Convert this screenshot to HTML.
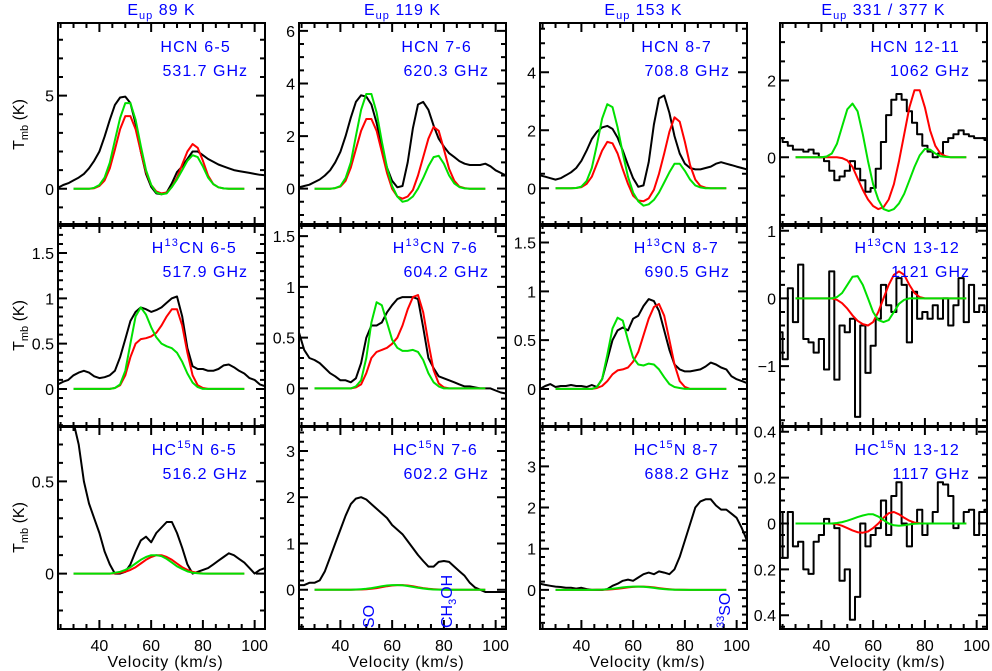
<!DOCTYPE html>
<html><head><meta charset="utf-8">
<style>
html,body{margin:0;padding:0;background:#fff;}
svg{display:block;font-family:"Liberation Sans",sans-serif;}
</style></head>
<body>
<svg id="chart" width="992" height="671" viewBox="0 0 992 671" xmlns="http://www.w3.org/2000/svg"></svg>
<script>
// ---------- data ----------
const VEL_OBS = [24,26,28,30,32,34,36,38,40,42,44,46,48,50,52,54,56,58,60,62,64,66,68,70,72,74,76,78,80,82,84,86,88,90,92,94,96,98,100,102,104];
const VEL_FIT = [30,32,34,36,38,40,42,44,46,48,50,52,54,56,58,60,62,64,66,68,70,72,74,76,78,80,82,84,86,88,90,92,94,96];

// HCN 6-5
const obs_hcn65 = [0.05,0.2,0.3,0.45,0.6,0.8,1.1,1.5,2.0,2.8,3.7,4.5,4.9,4.95,4.6,3.5,2.0,0.8,0.1,-0.25,-0.3,-0.2,0.3,0.9,1.2,1.6,2.0,2.0,1.8,1.6,1.45,1.3,1.2,1.1,1.0,0.95,0.9,0.85,0.8,0.75,0.72];
const green_hcn65 = [0,0,0,0,0.05,0.2,0.6,1.4,2.6,3.8,4.6,4.6,3.7,2.3,1.0,0.2,-0.2,-0.3,-0.25,0.1,0.5,1.0,1.5,1.8,1.7,1.2,0.6,0.25,0.08,0.02,0,0,0,0];
const red_hcn65 = [0,0,0,0,0.03,0.15,0.45,1.1,2.1,3.2,3.9,3.9,3.2,2.0,0.9,0.2,-0.15,-0.25,-0.2,0.1,0.6,1.3,2.0,2.4,2.2,1.5,0.7,0.25,0.08,0.02,0,0,0,0];
// HCN 7-6
const obs_hcn76 = [0.05,0.1,0.15,0.25,0.35,0.5,0.7,1.0,1.4,2.0,2.7,3.3,3.55,3.5,3.2,2.5,1.6,0.8,0.3,0.05,0.1,1.0,2.3,3.2,3.3,3.0,2.4,1.9,1.6,1.35,1.2,1.05,0.95,0.9,0.9,0.9,0.95,0.85,0.7,0.6,0.5];
const green_hcn76 = [0,0,0,0,0.02,0.1,0.4,1.0,2.0,3.0,3.6,3.6,2.9,1.8,0.8,0.1,-0.3,-0.5,-0.45,-0.3,0.0,0.4,0.85,1.2,1.25,0.95,0.5,0.2,0.06,0.01,0,0,0,0];
const red_hcn76 = [0,0,0,0,0.02,0.08,0.3,0.8,1.5,2.2,2.65,2.65,2.2,1.4,0.6,0.0,-0.3,-0.38,-0.3,-0.05,0.5,1.2,1.9,2.35,2.2,1.5,0.75,0.3,0.08,0.02,0,0,0,0];
// HCN 8-7
const obs_hcn87 = [0.45,0.4,0.35,0.3,0.35,0.45,0.55,0.7,0.95,1.3,1.7,1.95,2.1,2.15,2.05,1.75,1.3,0.8,0.35,0.05,0.1,0.9,2.2,3.1,3.2,2.6,1.8,1.2,0.85,0.7,0.65,0.65,0.7,0.75,0.85,0.9,0.85,0.8,0.75,0.7,0.65];
const green_hcn87 = [0,0,0,0,0.01,0.06,0.25,0.7,1.5,2.4,2.9,2.8,2.1,1.2,0.4,-0.15,-0.45,-0.6,-0.55,-0.4,-0.15,0.2,0.55,0.85,0.85,0.6,0.3,0.1,0.03,0,0,0,0,0];
const red_hcn87 = [0,0,0,0,0.01,0.04,0.15,0.4,0.85,1.3,1.6,1.55,1.2,0.65,0.15,-0.25,-0.42,-0.45,-0.35,-0.05,0.5,1.2,1.95,2.45,2.3,1.6,0.8,0.3,0.08,0.02,0,0,0,0];
// HCN 12-11
const obs_hcn1211 = [0.5,0.4,0.3,0.2,0.2,0.15,0.2,0.1,0.0,-0.1,-0.35,-0.6,-0.5,-0.35,-0.1,-0.3,-0.6,-0.9,-0.8,-0.3,0.4,1.1,1.5,1.65,1.5,1.2,0.9,0.6,0.3,0.15,0.0,0.1,0.4,0.5,0.6,0.7,0.6,0.55,0.5,0.5,0.45];
const green_hcn1211 = [0,0,0,0,0,0,0.02,0.1,0.35,0.8,1.25,1.4,1.2,0.6,-0.1,-0.7,-1.1,-1.35,-1.4,-1.35,-1.2,-0.95,-0.6,-0.25,0.05,0.22,0.2,0.1,0.03,0.01,0,0,0,0];
const red_hcn1211 = [0,0,0,0,0,0,0,0,0,-0.02,-0.08,-0.25,-0.55,-0.85,-1.1,-1.27,-1.35,-1.3,-1.1,-0.7,-0.1,0.6,1.3,1.75,1.75,1.3,0.7,0.3,0.1,0.03,0,0,0,0];
// H13CN 6-5
const obs_h13cn65 = [0.05,0.08,0.1,0.15,0.18,0.2,0.18,0.14,0.12,0.13,0.15,0.2,0.35,0.55,0.75,0.85,0.9,0.88,0.85,0.87,0.9,0.95,1.0,1.02,0.8,0.45,0.25,0.22,0.22,0.2,0.2,0.22,0.26,0.27,0.24,0.2,0.17,0.12,0.1,0.05,0.03];
const green_h13cn65 = [0,0,0,0,0,0,0,0,0.01,0.05,0.2,0.5,0.8,0.9,0.82,0.68,0.57,0.5,0.47,0.45,0.4,0.3,0.17,0.07,0.02,0,0,0,0,0,0,0,0,0];
const red_h13cn65 = [0,0,0,0,0,0,0,0,0.01,0.04,0.15,0.35,0.5,0.55,0.56,0.58,0.62,0.7,0.8,0.88,0.88,0.7,0.4,0.15,0.04,0.01,0,0,0,0,0,0,0,0];
// H13CN 7-6
const obs_h13cn76 = [0.55,0.38,0.3,0.28,0.25,0.2,0.15,0.12,0.08,0.08,0.06,0.1,0.25,0.5,0.62,0.62,0.65,0.75,0.82,0.88,0.9,0.9,0.9,0.88,0.6,0.3,0.2,0.12,0.1,0.08,0.06,0.04,0.02,0.02,0.01,0.0,0.0,0.0,-0.02,-0.04,-0.05];
const green_h13cn76 = [0,0,0,0,0,0,0,0,0.02,0.08,0.3,0.65,0.85,0.82,0.65,0.48,0.4,0.37,0.37,0.38,0.36,0.28,0.15,0.06,0.02,0,0,0,0,0,0,0,0,0];
const red_h13cn76 = [0,0,0,0,0,0,0,0,0.01,0.04,0.15,0.3,0.36,0.38,0.4,0.44,0.5,0.62,0.78,0.9,0.92,0.75,0.45,0.18,0.05,0.01,0,0,0,0,0,0,0,0];
// H13CN 8-7
const obs_h13cn87 = [0.0,0.03,0.05,0.02,0.03,0.03,0.04,0.03,0.03,0.02,0.04,0.02,0.1,0.3,0.5,0.6,0.63,0.6,0.72,0.75,0.85,0.92,0.9,0.8,0.6,0.4,0.25,0.2,0.18,0.18,0.19,0.2,0.23,0.27,0.25,0.22,0.2,0.13,0.1,0.08,0.06];
const green_h13cn87 = [0,0,0,0,0,0,0,0,0.02,0.1,0.35,0.62,0.73,0.7,0.5,0.32,0.25,0.24,0.26,0.25,0.2,0.12,0.05,0.02,0.01,0,0,0,0,0,0,0,0,0];
const red_h13cn87 = [0,0,0,0,0,0,0,0,0.01,0.03,0.08,0.15,0.19,0.2,0.22,0.28,0.38,0.55,0.72,0.84,0.87,0.75,0.5,0.25,0.08,0.02,0,0,0,0,0,0,0,0];
// H13CN 13-12
const obs_h13cn1312 = [-0.5,-0.9,0.15,-0.35,0.5,-0.6,-0.65,-0.8,-0.6,-1.05,0.4,-1.2,-0.4,-0.5,-0.3,-1.75,-0.4,-1.1,-0.7,-0.3,0.2,-0.1,-0.2,0.3,0.2,-0.65,0.1,-0.3,-0.2,-0.3,-0.1,-0.3,0.0,-0.4,-0.1,0.3,-0.35,0.2,-0.2,-0.1,-0.2];
const green_h13cn1312 = [0,0,0,0,0,0,0,0,0.02,0.08,0.2,0.32,0.33,0.2,0.0,-0.2,-0.32,-0.35,-0.32,-0.2,-0.08,-0.02,0,0,0,0,0,0,0,0,0,0,0,0];
const red_h13cn1312 = [0,0,0,0,0,0,0,0,-0.02,-0.07,-0.15,-0.25,-0.33,-0.38,-0.4,-0.35,-0.2,0.0,0.2,0.35,0.4,0.35,0.2,0.08,0.02,0,0,0,0,0,0,0,0,0];
// HC15N 6-5
const obs_hc15n65 = [0.95,0.9,0.88,0.82,0.7,0.5,0.38,0.3,0.22,0.12,0.05,0.0,0.0,0.01,0.05,0.12,0.18,0.2,0.17,0.22,0.25,0.28,0.28,0.22,0.14,0.05,0.0,0.01,0.02,0.03,0.05,0.07,0.09,0.11,0.1,0.08,0.06,0.03,0.0,0.02,0.03];
const green_hc15n65 = [0,0,0,0,0,0,0,0,0.005,0.01,0.02,0.035,0.055,0.075,0.09,0.1,0.1,0.095,0.08,0.06,0.04,0.025,0.012,0.005,0.002,0,0,0,0,0,0,0,0,0];
const red_hc15n65 = [0,0,0,0,0,0,0,0,0.002,0.005,0.01,0.02,0.035,0.055,0.075,0.09,0.1,0.1,0.09,0.075,0.055,0.035,0.02,0.01,0.004,0.001,0,0,0,0,0,0,0,0];
// HC15N 7-6
const obs_hc15n76 = [0.1,0.1,0.15,0.15,0.2,0.4,0.7,1.0,1.3,1.6,1.85,1.97,2.0,1.95,1.85,1.75,1.65,1.55,1.4,1.3,1.2,1.05,0.9,0.75,0.62,0.5,0.5,0.6,0.62,0.6,0.5,0.4,0.3,0.15,0.05,0.0,-0.05,-0.05,-0.05,-0.05,-0.05];
const green_hc15n76 = [0,0,0,0,0,0,0,0,0.005,0.01,0.02,0.035,0.055,0.075,0.09,0.1,0.1,0.095,0.08,0.06,0.04,0.025,0.012,0.005,0.002,0,0,0,0,0,0,0,0,0];
const red_hc15n76 = [0,0,0,0,0,0,0,0,0.002,0.005,0.01,0.02,0.035,0.055,0.075,0.09,0.1,0.1,0.09,0.075,0.055,0.035,0.02,0.01,0.004,0.001,0,0,0,0,0,0,0,0];
// HC15N 8-7
const obs_hc15n87 = [0.15,0.12,0.1,0.08,0.07,0.05,0.05,0.03,0.05,0.02,0.0,0.0,0.0,0.02,0.1,0.15,0.22,0.25,0.22,0.3,0.38,0.42,0.38,0.45,0.42,0.38,0.5,0.8,1.2,1.6,2.0,2.15,2.2,2.2,2.05,1.95,1.95,1.85,1.75,1.5,1.2];
const green_hc15n87 = [0,0,0,0,0,0,0,0,0.004,0.008,0.016,0.028,0.044,0.06,0.072,0.08,0.08,0.076,0.064,0.048,0.032,0.02,0.01,0.004,0.002,0,0,0,0,0,0,0,0,0];
const red_hc15n87 = [0,0,0,0,0,0,0,0,0.002,0.004,0.008,0.016,0.028,0.044,0.06,0.072,0.08,0.08,0.072,0.06,0.044,0.028,0.016,0.008,0.003,0.001,0,0,0,0,0,0,0,0];
// HC15N 13-12
const obs_hc15n1312 = [0.05,-0.15,0.05,-0.1,-0.08,-0.2,-0.22,-0.08,-0.05,0.02,0.0,-0.02,-0.25,-0.2,-0.42,-0.32,0.0,-0.1,-0.05,-0.02,0.1,-0.05,0.12,0.18,0.0,-0.1,0.0,0.06,-0.05,0.0,0.05,0.18,0.17,0.12,-0.02,0.0,0.05,0.06,-0.05,0.05,0.06];
const green_hc15n1312 = [0,0,0,0,0,0,0,0,0.002,0.006,0.012,0.02,0.028,0.035,0.04,0.04,0.03,0.015,0.0,-0.008,-0.01,-0.008,-0.004,-0.001,0,0,0,0,0,0,0,0,0,0];
const red_hc15n1312 = [0,0,0,0,0,0,0,0,-0.003,-0.01,-0.02,-0.03,-0.038,-0.04,-0.035,-0.02,0.0,0.025,0.045,0.05,0.04,0.025,0.012,0.004,0.001,0,0,0,0,0,0,0,0,0];

const X_TICK_LABELS = ["40","60","80","100"];
const COL_TITLES = ["89 K","119 K","153 K","331 / 377 K"];

// ---------- layout config ----------
const LEFTS=[58,299,540,780], TOPS=[23,224,426], PW=207, PH=203, VMIN=24, VMAX=104;
const panels = [
 {r:0,c:0,name:"hcn-6-5",l1:["HCN 6-5"],o1:34,l2:"531.7 GHz",y0:-2,y1:8.9,maj:5,min:1,labs:["0","5"],obs:obs_hcn65,g:green_hcn65,rd:red_hcn65,step:false},
 {r:0,c:1,name:"hcn-7-6",l1:["HCN 7-6"],o1:34,l2:"620.3 GHz",y0:-1.42,y1:6.3,maj:2,min:0.5,labs:["0","2","4","6"],obs:obs_hcn76,g:green_hcn76,rd:red_hcn76,step:false},
 {r:0,c:2,name:"hcn-8-7",l1:["HCN 8-7"],o1:35,l2:"708.8 GHz",y0:-1.3,y1:5.7,maj:2,min:0.5,labs:["0","2","4"],obs:obs_hcn87,g:green_hcn87,rd:red_hcn87,step:false},
 {r:0,c:3,name:"hcn-12-11",l1:["HCN 12-11"],o1:27,l2:"1062 GHz",y0:-1.79,y1:3.5,maj:2,min:0.5,labs:["0","2"],obs:obs_hcn1211,g:green_hcn1211,rd:red_hcn1211,step:true},
 {r:1,c:0,name:"h13cn-6-5",l1:["H","13","CN 6-5"],o1:28,l2:"517.9 GHz",y0:-0.42,y1:1.82,maj:0.5,min:0.1,labs:["0","0.5","1","1.5"],obs:obs_h13cn65,g:green_h13cn65,rd:red_h13cn65,step:false},
 {r:1,c:1,name:"h13cn-7-6",l1:["H","13","CN 7-6"],o1:28,l2:"604.2 GHz",y0:-0.38,y1:1.62,maj:0.5,min:0.1,labs:["0","0.5","1","1.5"],obs:obs_h13cn76,g:green_h13cn76,rd:red_h13cn76,step:false},
 {r:1,c:2,name:"h13cn-8-7",l1:["H","13","CN 8-7"],o1:28,l2:"690.5 GHz",y0:-0.39,y1:1.69,maj:0.5,min:0.1,labs:["0","0.5","1","1.5"],obs:obs_h13cn87,g:green_h13cn87,rd:red_h13cn87,step:false},
 {r:1,c:3,name:"h13cn-13-12",l1:["H","13","CN 13-12"],o1:27,l2:"1121 GHz",y0:-1.9,y1:1.1,maj:1,min:0.2,labs:["−1","0","1"],obs:obs_h13cn1312,g:green_h13cn1312,rd:red_h13cn1312,step:true},
 {r:2,c:0,name:"hc15n-6-5",l1:["HC","15","N 6-5"],o1:28,l2:"516.2 GHz",y0:-0.3,y1:0.8,maj:0.5,min:0.1,labs:["0","0.5"],obs:obs_hc15n65,g:green_hc15n65,rd:red_hc15n65,step:false},
 {r:2,c:1,name:"hc15n-7-6",l1:["HC","15","N 7-6"],o1:28,l2:"602.2 GHz",y0:-0.85,y1:3.54,maj:1,min:0.2,labs:["0","1","2","3"],obs:obs_hc15n76,g:green_hc15n76,rd:red_hc15n76,step:false},
 {r:2,c:2,name:"hc15n-8-7",l1:["HC","15","N 8-7"],o1:28,l2:"688.2 GHz",y0:-0.95,y1:3.98,maj:1,min:0.2,labs:["0","1","2","3"],obs:obs_hc15n87,g:green_hc15n87,rd:red_hc15n87,step:false},
 {r:2,c:3,name:"hc15n-13-12",l1:["HC","15","N 13-12"],o1:27,l2:"1117 GHz",y0:-0.46,y1:0.425,maj:0.2,min:0.05,labs:["0.4","0.2","0","0.2","0.4"],obs:obs_hc15n1312,g:green_hc15n1312,rd:red_hc15n1312,step:true}
];

const NS="http://www.w3.org/2000/svg";
const svg=document.getElementById('chart');
function mk(tag,attrs,parent){const e=document.createElementNS(NS,tag);for(const k in attrs)e.setAttribute(k,attrs[k]);(parent||svg).appendChild(e);return e;}
const defs=mk('defs',{});

panels.forEach((p,i)=>{
  const L=LEFTS[p.c],T=TOPS[p.r],R=L+PW,B=T+PH;
  const xs=v=>L+(v-VMIN)/(VMAX-VMIN)*PW;
  const ys=y=>B-(y-p.y0)/(p.y1-p.y0)*PH;
  const g=mk('g',{});
  
  
  const cp=mk('clipPath',{id:'cp'+i},defs);
  mk('rect',{x:L,y:T,width:PW,height:PH},cp);
  const cg=mk('g',{'clip-path':'url(#cp'+i+')'},g);
  let d='';
  if(p.step){
    p.obs.forEach((y,k)=>{const v=VEL_OBS[k];const a=xs(v-1),b=xs(v+1),yy=ys(y);d+=(k===0?'M':'L')+a.toFixed(1)+','+yy.toFixed(1)+'L'+b.toFixed(1)+','+yy.toFixed(1);});
  } else {
    p.obs.forEach((y,k)=>{d+=(k===0?'M':'L')+xs(VEL_OBS[k]).toFixed(1)+','+ys(y).toFixed(1);});
  }
  const ob=mk('path',{d:d,fill:'none',stroke:'#000','stroke-width':2,'stroke-linejoin':'round'},cg);
  
  
  const line=(arr,col,nm)=>{let dd='';arr.forEach((y,k)=>{dd+=(k===0?'M':'L')+xs(VEL_FIT[k]).toFixed(1)+','+ys(y).toFixed(1);});
    const e=mk('path',{d:dd,fill:'none',stroke:col,'stroke-width':2,'stroke-linejoin':'round'},cg);
    
    };
  line(p.rd,'#ff0000','model-red');
  line(p.g,'#00e000','model-green');
  const fr=mk('rect',{x:L,y:T,width:PW,height:PH,fill:'none',stroke:'#000','stroke-width':2},g);
  
  
  let td='';
  for(let v=25;v<=VMAX;v+=5){const x=xs(v);const len=(v%20===0)?9:5;td+=`M${x},${B}v${-len}M${x},${T}v${len}`;}
  const n0=Math.ceil(p.y0/p.min-1e-6),n1=Math.floor(p.y1/p.min+1e-6);
  for(let n=n0;n<=n1;n++){const y=n*p.min;const yy=ys(y);const r=y/p.maj;const major=Math.abs(r-Math.round(r))<1e-6;const len=major?9:5;td+=`M${L},${yy}h${len}M${R},${yy}h${-len}`;}
  mk('path',{d:td,stroke:'#000','stroke-width':2,fill:'none'},g);
  let k=0;
  for(let n=n0;n<=n1;n++){const y=n*p.min;const r=y/p.maj;if(Math.abs(r-Math.round(r))<1e-6){const lab=p.labs[k++];if(lab===undefined)continue;
    const t=mk('text',{x:L-4,y:ys(y)+6,'text-anchor':'end','font-size':16,fill:'#000'},g);t.textContent=lab;
    
    }}
  if(p.r===2){
    X_TICK_LABELS.forEach(lab=>{const t=mk('text',{x:xs(+lab),y:651,'text-anchor':'middle','font-size':16,fill:'#000'},g);t.textContent=lab;
      
      });
    const xt=mk('text',{x:L+PW/2+4,y:667,'text-anchor':'middle','font-size':16,fill:'#000','letter-spacing':'0.8'},g);xt.textContent='Velocity (km/s)';
    
    
  }
  const t1=mk('text',{x:R-p.o1,y:T+29,'text-anchor':'end','font-size':16,fill:'#0000ff','letter-spacing':'1.2'},g);
  if(p.l1.length===1){t1.textContent=p.l1[0];}
  else{const a=mk('tspan',{},t1);a.textContent=p.l1[0];const s=mk('tspan',{dy:-7,'font-size':11},t1);s.textContent=p.l1[1];const c=mk('tspan',{dy:7},t1);c.textContent=p.l1[2];}
  
  
  const t2=mk('text',{x:R-17,y:T+53,'text-anchor':'end','font-size':16,fill:'#0000ff','letter-spacing':'1'},g);t2.textContent=p.l2;
  
  
  if(p.c===0){
    const yt=mk('text',{transform:`translate(24,${T+PH/2}) rotate(-90)`,'text-anchor':'middle','font-size':16,fill:'#000'},g);
    const a=mk('tspan',{},yt);a.textContent='T';const s=mk('tspan',{dy:4,'font-size':11},yt);s.textContent='mb';const c=mk('tspan',{dy:-4},yt);c.textContent=' (K)';
    
    
  }
  if(p.r===0){
    const tt=mk('text',{x:L+PW/2,y:15,'text-anchor':'middle','font-size':16,fill:'#0000ff','letter-spacing':'1'},g);
    const a=mk('tspan',{},tt);a.textContent='E';const s=mk('tspan',{dy:4,'font-size':11},tt);s.textContent='up';const c=mk('tspan',{dy:-4},tt);c.textContent=' '+COL_TITLES[p.c];
    
    
  }
});
function vlabel(x,parts,nm){const t=mk('text',{transform:`translate(${x},628) rotate(-90)`,'font-size':16,fill:'#0000ff'});
  parts.forEach(([s,dy,fs])=>{const e=mk('tspan',{dy:dy,'font-size':fs},t);e.textContent=s;});
  
  }
vlabel(374,[["SO",0,16]],'so-label');
vlabel(452,[["CH",0,16],["3",4,11],["OH",-4,16]],'ch3oh-label');
vlabel(730,[["33",-6,11],["SO",6,16]],'33so-label');
</script>
</body></html>
